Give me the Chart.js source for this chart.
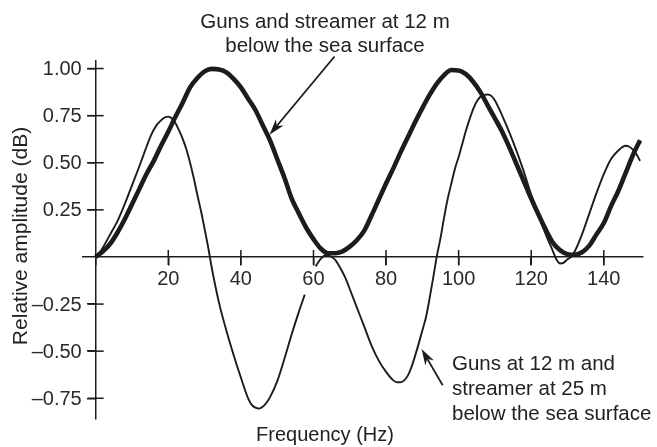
<!DOCTYPE html>
<html>
<head>
<meta charset="utf-8">
<script src="https://cdn.jsdelivr.net/npm/chart.js@4.4.1/dist/chart.umd.min.js"></script>
<style>
html,body{margin:0;padding:0;background:#fff;}
canvas{display:block;}
</style>
</head>
<body>
<canvas id="c" width="657" height="447"></canvas>
<script>
// Guns and streamer at 12 m (thick curve)
const freqBoth = [0,2,4,6,8,10,12,14,16,18,20,22,24,26,28,30,32,34,36,38,40,42,44,46,48,50,52,54,56,58,60,62,64,66,68,70,72,74,76,78,80,82,84,86,88,90,92,94,96,98,100,102,104,106,108,110,112,114,116,118,120,122,124,126,128,130,132,134,136,138,140,142,144,146,148,150];
const ampBoth  = [0,0.03,0.07,0.13,0.20,0.28,0.36,0.44,0.51,0.59,0.665,0.745,0.82,0.90,0.95,0.985,0.998,0.995,0.98,0.945,0.90,0.84,0.78,0.70,0.62,0.52,0.42,0.31,0.23,0.155,0.095,0.045,0.02,0.02,0.03,0.055,0.09,0.14,0.22,0.305,0.39,0.47,0.555,0.635,0.715,0.79,0.86,0.92,0.965,0.992,0.99,0.97,0.93,0.875,0.805,0.735,0.665,0.58,0.49,0.40,0.31,0.225,0.145,0.075,0.035,0.015,0.012,0.025,0.06,0.12,0.18,0.27,0.35,0.445,0.54,0.62];

// Guns at 12 m and streamer at 25 m (thin curve); null = gap behind the "60" label
const freqSplit = [0,1,2,3,4,6,8,10,12,14,15,16,17,18,19,20,21,22,23,24,25,26,27,28,29,30,31,32,34,36,38,40,42,43,44,45,46,47,48,50,52,54,56,57.6,59,60.6,62,63.5,65,66,67,68,69,70,72,74,76,78,80,82,83,84,85,86,87,88,89,90,91,92,93,94,95,96,97,98,99,100,101,102,103,104,105,106,107,108,109,110,112,114,116,118,120,122,124,126,127,128,129,130,131,132,134,136,138,140,142,144,146,147,148,149,150];
const ampSplit  = [0,0.02,0.05,0.085,0.12,0.19,0.28,0.38,0.48,0.585,0.635,0.675,0.705,0.725,0.74,0.745,0.735,0.71,0.67,0.625,0.57,0.50,0.42,0.33,0.245,0.15,0.05,-0.06,-0.245,-0.39,-0.52,-0.64,-0.75,-0.785,-0.80,-0.805,-0.795,-0.775,-0.745,-0.66,-0.54,-0.41,-0.29,-0.20,null,-0.05,-0.01,0.01,0.0,-0.015,-0.045,-0.08,-0.12,-0.17,-0.27,-0.37,-0.47,-0.55,-0.61,-0.655,-0.665,-0.665,-0.655,-0.63,-0.585,-0.525,-0.46,-0.39,-0.32,-0.22,-0.11,0.005,0.10,0.21,0.31,0.39,0.47,0.53,0.60,0.67,0.73,0.785,0.825,0.85,0.86,0.862,0.855,0.83,0.75,0.66,0.56,0.45,0.33,0.22,0.12,0.03,-0.015,-0.035,-0.03,-0.012,0.0,0.03,0.12,0.23,0.34,0.44,0.52,0.565,0.59,0.585,0.57,0.545,0.51];

const xTicks = [0,20,40,60,80,100,120,140];
const yTicks = [-0.75,-0.5,-0.25,0.25,0.5,0.75,1.0];

const INK = '#1c1c1c';
const FONT = '"Liberation Sans", Arial, Helvetica, sans-serif';

function toPts(xs, ys){ return xs.map((x,i)=>({x:x, y:ys[i]})); }
function yLabel(v){ return (v < 0 ? '\u2013' : '') + Math.abs(v).toFixed(2); }

const decor = {
  id:'decor',
  beforeDraw(chart){
    const c = chart.ctx;
    c.save(); c.fillStyle='#fff'; c.fillRect(0,0,chart.width,chart.height); c.restore();
  },
  afterDraw(chart){
    const c = chart.ctx, xs = chart.scales.x, ys = chart.scales.y;
    const x0 = xs.getPixelForValue(0), y0 = ys.getPixelForValue(0);
    c.save();
    c.strokeStyle = INK; c.lineWidth = 1.5;
    // cross ticks
    xTicks.forEach(v=>{ if(v===0) return; const px = xs.getPixelForValue(v);
      c.beginPath(); c.moveTo(px, y0-7); c.lineTo(px, y0+8); c.stroke(); });
    yTicks.forEach(v=>{ const py = ys.getPixelForValue(v);
      c.beginPath(); c.moveTo(x0-8, py); c.lineTo(x0+8, py); c.stroke(); });

    // y tick labels from the y scale's ticks
    c.fillStyle = '#2a2a2a';
    c.font = '20px ' + FONT;
    c.textAlign = 'right'; c.textBaseline = 'middle';
    ys.ticks.forEach(t=>{ c.fillText(yLabel(t.value), x0 - 14, ys.getPixelForValue(t.value) + 1); });

    // texts
    c.fillStyle = '#222';
    c.font = '20.5px ' + FONT;
    c.textAlign = 'center'; c.textBaseline = 'alphabetic';
    c.fillText('Guns and streamer at 12 m', 325, 28);
    c.fillText('below the sea surface', 325, 52);
    c.textAlign = 'left';
    c.fillText('Guns at 12 m and', 452, 370);
    c.fillText('streamer at 25 m', 452, 395);
    c.fillText('below the sea surface', 452, 420);
    c.textAlign = 'center';
    c.font = '20px ' + FONT;
    c.fillText('Frequency (Hz)', 325, 441);
    c.save();
    c.translate(27, 236); c.rotate(-Math.PI/2);
    c.font = '21px ' + FONT;
    c.fillText('Relative amplitude (dB)', 0, 0);
    c.restore();

    // arrows (anchored in data coordinates)
    function arrow(fx1, fy1, fx2, fy2){
      const x1 = xs.getPixelForValue(fx1), y1 = ys.getPixelForValue(fy1);
      const x2 = xs.getPixelForValue(fx2), y2 = ys.getPixelForValue(fy2);
      const a = Math.atan2(y2-y1, x2-x1), L = 16, W = 5;
      c.lineWidth = 1.8; c.strokeStyle = INK; c.fillStyle = INK;
      c.beginPath(); c.moveTo(x1,y1); c.lineTo(x2 - Math.cos(a)*L*0.6, y2 - Math.sin(a)*L*0.6); c.stroke();
      c.beginPath();
      c.moveTo(x2,y2);
      c.lineTo(x2 - Math.cos(a)*L + Math.sin(a)*W, y2 - Math.sin(a)*L - Math.cos(a)*W);
      c.lineTo(x2 - Math.cos(a)*L*0.7, y2 - Math.sin(a)*L*0.7);
      c.lineTo(x2 - Math.cos(a)*L - Math.sin(a)*W, y2 - Math.sin(a)*L + Math.cos(a)*W);
      c.closePath(); c.fill();
    }
    arrow(65.8, 1.064, 47.9, 0.649);
    arrow(95.6, -0.681, 89.8, -0.489);
    c.restore();
  }
};

new Chart(document.getElementById('c').getContext('2d'), {
  type: 'line',
  data: {
    datasets: [
      { label: 'Guns at 12 m and streamer at 25 m', data: toPts(freqSplit, ampSplit),
        borderColor: INK, borderWidth: 1.9, pointRadius: 0, fill: false,
        cubicInterpolationMode: 'monotone', spanGaps: false, clip: false },
      { label: 'Guns and streamer at 12 m', data: toPts(freqBoth, ampBoth),
        borderColor: INK, borderWidth: 4.6, pointRadius: 0, fill: false,
        cubicInterpolationMode: 'monotone', clip: false }
    ]
  },
  options: {
    responsive: false, animation: false, devicePixelRatio: 1,
    layout: { padding: { left: 83, right: 14, top: 61, bottom: 28 } },
    plugins: { legend: { display: false }, tooltip: { enabled: false } },
    scales: {
      x: {
        type: 'linear', min: -3.5, max: 150.8, position: { y: 0 },
        afterBuildTicks: s => { s.ticks = xTicks.map(v => ({ value: v })); },
        grid: { drawOnChartArea: false, drawTicks: true, tickLength: 8, color: INK, lineWidth: 1.5 },
        border: { display: true, color: INK, width: 1.5 },
        ticks: { font: { family: FONT, size: 20 }, color: '#2a2a2a', padding: 3,
                 maxRotation: 0, autoSkip: false, callback: v => v === 0 ? '' : String(v) }
      },
      y: {
        type: 'linear', min: -0.86, max: 1.04, position: { x: 0 },
        afterBuildTicks: s => { s.ticks = yTicks.map(v => ({ value: v })); },
        grid: { drawOnChartArea: false, drawTicks: true, tickLength: 8, color: INK, lineWidth: 1.5 },
        border: { display: true, color: INK, width: 1.5 },
        ticks: { display: false }
      }
    }
  },
  plugins: [decor]
});
</script>
</body>
</html>
